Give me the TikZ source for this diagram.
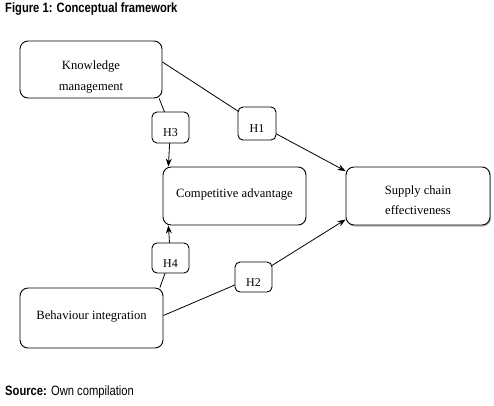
\documentclass[tikz,border=0pt]{standalone}
\usepackage{fontspec}
\setmainfont{Liberation Serif}
\newfontfamily\narrowsans[FakeStretch=0.83]{Liberation Sans}
\usetikzlibrary{arrows.meta,shadows}
\newcommand\placedtext[2]{\raisebox{#1}[0pt][0pt]{\begin{tabular}[t]{@{}c@{}}#2\end{tabular}}}
\begin{document}
\begin{tikzpicture}[x=1pt,y=-1pt,
  bigbox/.style={draw,line width=0.9pt,rounded corners=8pt,fill=white,align=center,
     font=\fontsize{12.6}{20.5}\selectfont,inner sep=0pt},
  hbox/.style={draw,line width=0.9pt,rounded corners=5pt,fill=white,
     font=\fontsize{12}{14}\selectfont,inner sep=0pt,minimum width=37pt},
  link/.style={line width=0.8pt},
  arr/.style={line width=0.8pt,-{Stealth[length=8pt,width=6pt]}},
  captext/.style={font=\narrowsans\fontsize{13.5}{15}\selectfont,anchor=base west,inner sep=0pt}]
\useasboundingbox[fill=white] (0,0) rectangle (494,405);
\node[captext] (title) at (5,12.5) {\bfseries Figure 1: Conceptual framework};
\node[captext] (source) at (5,395) {\bfseries Source:\mdseries{} Own compilation};

\node[bigbox,minimum width=142pt,minimum height=57pt] (km) at (91,69.5) {\placedtext{0pt}{Knowledge\\management}};
\node[bigbox,minimum width=143pt,minimum height=58pt] (ca) at (234.5,196) {\placedtext{-1pt}{Competitive advantage}};
\node[bigbox,minimum width=144pt,minimum height=58pt,
  drop shadow={shadow xshift=1pt,shadow yshift=-1.5pt,fill=black!55}] (sce) at (418,196) {\placedtext{2pt}{Supply chain\\effectiveness}};
\node[bigbox,minimum width=143pt,minimum height=60pt] (bi) at (91.5,318) {\placedtext{-1pt}{Behaviour integration}};

\draw[link] (km.6) -- (257,123.5) coordinate (h1c);
\draw[arr] (h1c) -- (sce.161);
\draw[link] (km.-23) -- (170.5,127.5) coordinate (h3c);
\draw[arr] (h3c) -- (ca.156);
\draw[link] (bi.24.6) -- (170.5,258) coordinate (h4c);
\draw[arr] (h4c) -- (ca.204);
\draw[link] (bi.2.4) -- (253.5,277) coordinate (h2c);
\draw[arr] (h2c) -- (sce.198.4);

\node[hbox,minimum height=33pt,minimum width=38pt] (h1) at (h1c) {\placedtext{-8.5pt}{H1}};
\node[hbox,minimum height=31pt] (h3) at (h3c) {\placedtext{-8.5pt}{H3}};
\node[hbox,minimum height=30pt] (h4) at (h4c) {\placedtext{-9pt}{H4}};
\node[hbox,minimum height=30pt] (h2) at (h2c) {\placedtext{-9pt}{H2}};
\end{tikzpicture}
\end{document}
